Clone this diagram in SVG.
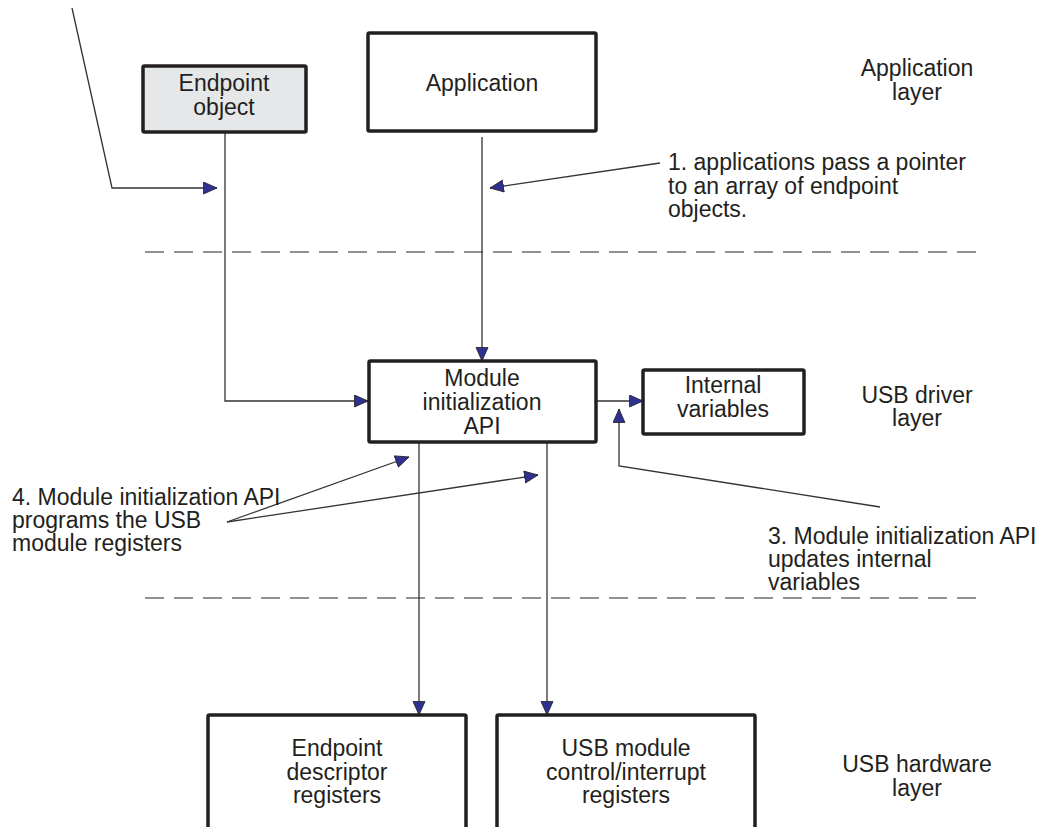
<svg xmlns="http://www.w3.org/2000/svg" width="1056" height="827" viewBox="0 0 1056 827">
<style>
text{font-family:"Liberation Sans",Arial,sans-serif;font-size:23px;fill:#231f20}
.c{text-anchor:middle}
.box{fill:#fff;stroke:#231f20;stroke-width:3.5}
.ln{fill:none;stroke:#333;stroke-width:1.3}
.dash{fill:none;stroke:#6d6e71;stroke-width:1.6;stroke-dasharray:19 10}
</style>
<defs>
<marker id="ah" markerUnits="userSpaceOnUse" markerWidth="16" markerHeight="14" refX="14" refY="6.5" orient="auto">
<path d="M0.5,0.5 L14,6.5 L0.5,12.5 Z" fill="#2e3192" stroke="#231f20" stroke-width="0.8"/>
</marker>
</defs>
<rect width="1056" height="827" fill="#fff"/>
<g id="layer-separators">
<line class="dash" x1="145" y1="252" x2="977" y2="252"/>
<line class="dash" x1="145" y1="598" x2="977" y2="598"/>
</g>
<g id="connectors">
<polyline class="ln" points="72,8 112,188 217,188" marker-end="url(#ah)"/>
<polyline class="ln" points="225,132 225,401 368,401" marker-end="url(#ah)"/>
<line class="ln" x1="482" y1="137" x2="482" y2="361" marker-end="url(#ah)"/>
<line class="ln" x1="660" y1="163" x2="490" y2="188" marker-end="url(#ah)"/>
<line class="ln" x1="596" y1="401" x2="643" y2="401" marker-end="url(#ah)"/>
<polyline class="ln" points="880,507 619,466 619,409" marker-end="url(#ah)"/>
<line class="ln" x1="419" y1="442" x2="419" y2="715" marker-end="url(#ah)"/>
<line class="ln" x1="547" y1="442" x2="547" y2="715" marker-end="url(#ah)"/>
<line class="ln" x1="227" y1="522" x2="409" y2="457" marker-end="url(#ah)"/>
<line class="ln" x1="227" y1="522" x2="538" y2="475" marker-end="url(#ah)"/>
</g>
<g id="endpoint-object">
<rect x="143" y="66" width="163" height="66" rx="1.5" fill="#e6e7e8" stroke="#231f20" stroke-width="3.5"/>
<text class="c" x="224" y="91">Endpoint</text>
<text class="c" x="224" y="115">object</text>
</g>
<g id="application">
<rect class="box" x="368" y="33" width="228" height="98" rx="1.5"/>
<text class="c" x="482" y="91">Application</text>
</g>
<g id="module-init-api">
<rect class="box" x="369" y="361" width="227" height="81" rx="1.5"/>
<text class="c" x="482" y="386">Module</text>
<text class="c" x="482" y="410">initialization</text>
<text class="c" x="482" y="434">API</text>
</g>
<g id="internal-variables">
<rect class="box" x="643" y="370" width="161" height="64" rx="1.5"/>
<text class="c" x="723" y="393">Internal</text>
<text class="c" x="723" y="417">variables</text>
</g>
<g id="endpoint-descriptor-registers">
<rect class="box" x="208" y="715" width="258" height="120" rx="1.5"/>
<text class="c" x="337" y="756">Endpoint</text>
<text class="c" x="337" y="780">descriptor</text>
<text class="c" x="337" y="803">registers</text>
</g>
<g id="usb-module-registers">
<rect class="box" x="497" y="715" width="258" height="120" rx="1.5"/>
<text class="c" x="626" y="756">USB module</text>
<text class="c" x="626" y="780">control/interrupt</text>
<text class="c" x="626" y="803">registers</text>
</g>
<g id="layer-labels">
<text class="c" x="917" y="76">Application</text>
<text class="c" x="917" y="100">layer</text>
<text class="c" x="917" y="403">USB driver</text>
<text class="c" x="917" y="426">layer</text>
<text class="c" x="917" y="772">USB hardware</text>
<text class="c" x="917" y="796">layer</text>
</g>
<g id="note-1">
<text x="668" y="170">1. applications pass a pointer</text>
<text x="668" y="194">to an array of endpoint</text>
<text x="668" y="217">objects.</text>
</g>
<g id="note-3">
<text x="768" y="544">3. Module initialization API</text>
<text x="768" y="567">updates internal</text>
<text x="768" y="590">variables</text>
</g>
<g id="note-4">
<text x="12" y="505">4. Module initialization API</text>
<text x="12" y="528">programs the USB</text>
<text x="12" y="551">module registers</text>
</g>
</svg>
